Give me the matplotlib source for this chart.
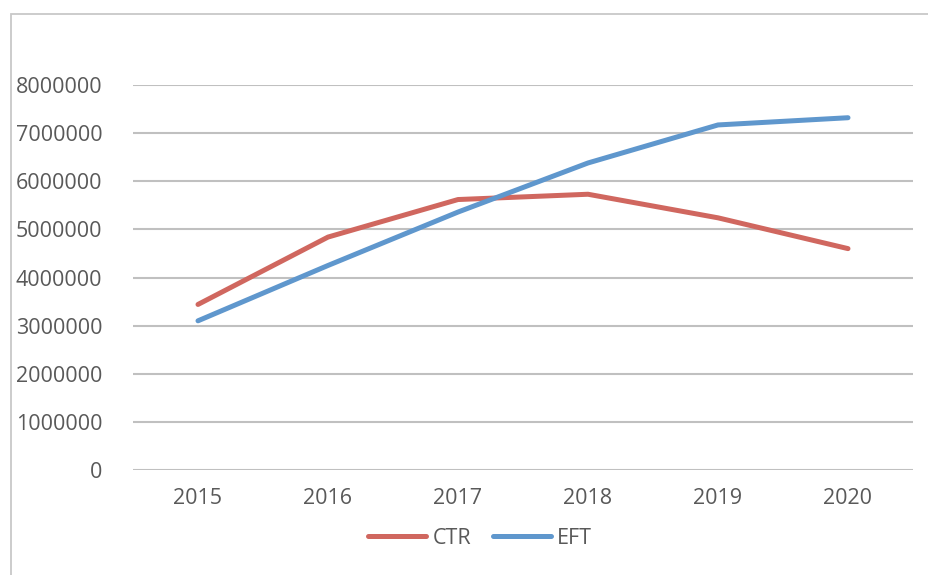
import matplotlib.pyplot as plt
from matplotlib.patches import Rectangle

# Data
years = ["2015", "2016", "2017", "2018", "2019", "2020"]
ctr = [3440000, 4840000, 5620000, 5730000, 5240000, 4600000]
eft = [3100000, 4250000, 5360000, 6380000, 7170000, 7320000]
y_ticks = [0, 1000000, 2000000, 3000000, 4000000, 5000000, 6000000, 7000000, 8000000]

RED = "#D0675F"
BLUE = "#5F97CD"
TEXT = "#595959"
GRID = "#C0C0C0"

plt.rcParams["font.family"] = ["Open Sans", "DejaVu Sans"]

fig = plt.figure(figsize=(9.29, 5.75), dpi=100)
ax = fig.add_axes([133 / 929, 1 - 470 / 575, 780 / 929, 385 / 575])

x = range(len(years))
ax.plot(x, ctr, color=RED, lw=3.6, solid_capstyle="round", solid_joinstyle="round", label="CTR", zorder=3)
ax.plot(x, eft, color=BLUE, lw=3.6, solid_capstyle="round", solid_joinstyle="round", label="EFT", zorder=3)

ax.set_xlim(-0.5, len(years) - 0.5)
ax.set_ylim(0, 8000000)
ax.set_xticks(list(x))
ax.set_xticklabels(years)
ax.set_yticks(y_ticks)
ax.set_yticklabels([str(v) for v in y_ticks])
ax.tick_params(axis="both", length=0, labelsize=15.5, colors=TEXT)
ax.tick_params(axis="y", pad=22)
ax.tick_params(axis="x", pad=13)

for v in y_ticks:
    ax.axhline(v, color=GRID, lw=1.5, zorder=1)
for s in ax.spines.values():
    s.set_visible(False)

leg = fig.legend(loc="center", bbox_to_anchor=(480 / 929, 1 - 538 / 575), ncol=2, frameon=False,
                 fontsize=15.5, handlelength=2.7, handletextpad=0.3, columnspacing=1.0)
for t in leg.get_texts():
    t.set_color(TEXT)

# outer chart border (bottom edge falls outside the image)
fig.patches.append(Rectangle((11 / 929, -0.05), 1.0, 1 - 14 / 575 + 0.05, transform=fig.transFigure,
                             fill=False, edgecolor="#C8C8C8", lw=1.3))

fig.savefig("out.png", dpi=100)
